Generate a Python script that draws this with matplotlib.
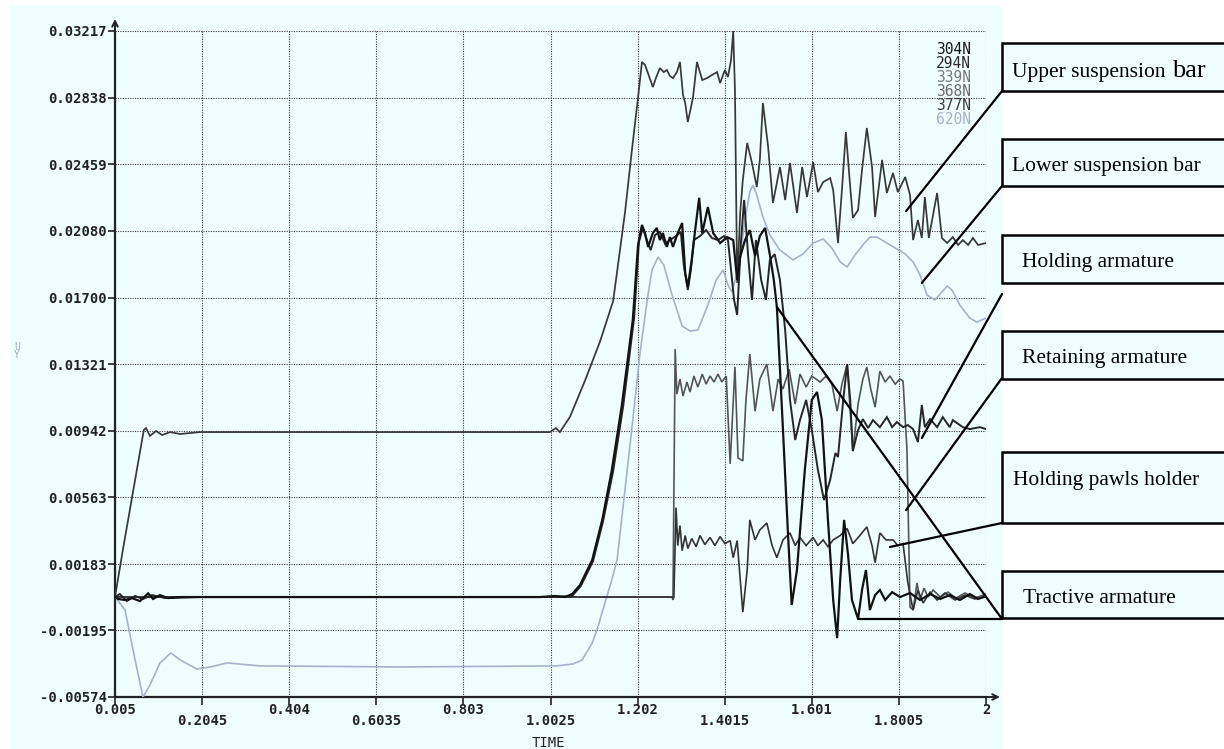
import matplotlib
matplotlib.use('Agg')
import matplotlib.pyplot as plt
from matplotlib.patches import Rectangle, ConnectionPatch

# ---------------- data ----------------
y_ticks = [-0.00574, -0.00195, 0.00183, 0.00563, 0.00942, 0.01321,
           0.01700, 0.02080, 0.02459, 0.02838, 0.03217]
y_tick_labels = ['-0.00574', '-0.00195', '0.00183', '0.00563', '0.00942', '0.01321',
                 '0.01700', '0.02080', '0.02459', '0.02838', '0.03217']
x_ticks_row1 = [0.005, 0.404, 0.803, 1.202, 1.601, 2.0]
x_labels_row1 = ['0.005', '0.404', '0.803', '1.202', '1.601', '2']
x_ticks_row2 = [0.2045, 0.6035, 1.0025, 1.4015, 1.8005]
x_labels_row2 = ['0.2045', '0.6035', '1.0025', '1.4015', '1.8005']

legend_labels = ['304N', '294N', '339N', '368N', '377N', '620N']

# Lower suspension bar (620N, light blue)
lower_t = [0.005, 0.028, 0.051, 0.069, 0.085, 0.108, 0.133, 0.154, 0.193, 0.223, 0.262, 0.337,
           0.658, 1.017, 1.054, 1.075, 1.098, 1.111, 1.127, 1.143, 1.155, 1.173, 1.191, 1.207,
           1.224, 1.235, 1.249, 1.262, 1.281, 1.304, 1.322, 1.340, 1.363, 1.382, 1.398, 1.409,
           1.418, 1.432, 1.448, 1.459, 1.466, 1.475, 1.489, 1.505, 1.528, 1.558, 1.581, 1.604,
           1.627, 1.647, 1.666, 1.682, 1.700, 1.718, 1.734, 1.750, 1.769, 1.792, 1.815, 1.833,
           1.849, 1.865, 1.883, 1.899, 1.911, 1.922, 1.940, 1.963, 1.979, 2.000]
lower_v = [-0.00005, -0.00079, -0.00363, -0.00574, -0.00506, -0.00380, -0.00323, -0.00363,
           -0.00415, -0.00403, -0.00380, -0.00397, -0.00403, -0.00397, -0.00386, -0.00363,
           -0.00267, -0.00176, -0.00039, 0.00092, 0.00206, 0.00604, 0.01003, 0.01373, 0.01686,
           0.01857, 0.01931, 0.01885, 0.01714, 0.01538, 0.01509, 0.01515, 0.01657, 0.01800,
           0.01857, 0.01771, 0.01731, 0.01857, 0.02141, 0.02301, 0.02340, 0.02283, 0.02158,
           0.02056, 0.01970, 0.01914, 0.01948, 0.02010, 0.02033, 0.01982, 0.01902, 0.01874,
           0.01942, 0.01999, 0.02044, 0.02044, 0.02016, 0.01982, 0.01948, 0.01902, 0.01828,
           0.01714, 0.01686, 0.01731, 0.01765, 0.01743, 0.01657, 0.01583, 0.01560, 0.01583]

# Upper suspension bar (377N)
upper_t = [0.005, 0.023, 0.071, 0.076, 0.085, 0.099, 0.113, 0.131, 0.154, 0.200, 1.001, 1.015,
           1.024, 1.047, 1.082, 1.116, 1.146, 1.173, 1.189, 1.203, 1.212, 1.219, 1.237, 1.244,
           1.253, 1.262, 1.269, 1.276, 1.283, 1.292, 1.299, 1.306, 1.311, 1.317, 1.322, 1.329,
           1.338, 1.350, 1.361, 1.372, 1.384, 1.391, 1.402, 1.409, 1.416, 1.421, 1.425, 1.430,
           1.437, 1.443, 1.453, 1.464, 1.475, 1.482, 1.489, 1.501, 1.512, 1.528, 1.540, 1.551,
           1.567, 1.579, 1.590, 1.604, 1.615, 1.627, 1.643, 1.650, 1.661, 1.670, 1.679, 1.689,
           1.695, 1.707, 1.716, 1.727, 1.739, 1.746, 1.762, 1.773, 1.787, 1.798, 1.815, 1.826,
           1.833, 1.844, 1.853, 1.860, 1.869, 1.888, 1.899, 1.911, 1.924, 1.936, 1.947, 1.959,
           1.970, 1.982, 2.000]
upper_v = [-0.00005, 0.00263, 0.00946, 0.00957, 0.00912, 0.00940, 0.00917, 0.00934, 0.00923,
           0.00934, 0.00934, 0.00957, 0.00934, 0.01020, 0.01230, 0.01450, 0.01680, 0.02181,
           0.02540, 0.02838, 0.03041, 0.03024, 0.02898, 0.02949, 0.03006, 0.02983, 0.02995,
           0.02961, 0.02949, 0.02983, 0.03041, 0.02853, 0.02807, 0.02699, 0.02756, 0.02841,
           0.03041, 0.02938, 0.02949, 0.02966, 0.02983, 0.02921, 0.02995, 0.02955, 0.03052,
           0.03217, 0.02881, 0.01783, 0.02181, 0.02369, 0.02580, 0.02466, 0.02329, 0.02483,
           0.02807, 0.02557, 0.02238, 0.02443, 0.02255, 0.02466, 0.02181, 0.02443, 0.02272,
           0.02471, 0.02300, 0.02357, 0.02380, 0.02312, 0.02010, 0.02312, 0.02642, 0.02329,
           0.02153, 0.02198, 0.02426, 0.02665, 0.02443, 0.02158, 0.02483, 0.02295, 0.02409,
           0.02300, 0.02386, 0.02283, 0.02027, 0.02141, 0.02039, 0.02272, 0.02039, 0.02295,
           0.02039, 0.02010, 0.02044, 0.01999, 0.02027, 0.01999, 0.02039, 0.01999, 0.02010]

# Tractive armature (304N)
tract_t = [0.005, 0.012, 0.028, 0.044, 0.062, 0.081, 0.092, 0.108, 0.126, 0.154, 0.978, 1.013,
           1.036, 1.052, 1.070, 1.098, 1.121, 1.143, 1.166, 1.191, 1.203, 1.212, 1.219, 1.226,
           1.237, 1.246, 1.253, 1.260, 1.269, 1.276, 1.283, 1.294, 1.304, 1.311, 1.317, 1.326,
           1.333, 1.343, 1.350, 1.363, 1.375, 1.391, 1.407, 1.421, 1.430, 1.437, 1.448, 1.459,
           1.471, 1.482, 1.494, 1.505, 1.514, 1.521, 1.535, 1.546, 1.555, 1.567, 1.585, 1.601,
           1.613, 1.624, 1.638, 1.650, 1.659, 1.666, 1.675, 1.684, 1.693, 1.707, 1.716, 1.725,
           1.734, 1.746, 1.757, 1.769, 1.785, 1.803, 1.826, 1.849, 1.872, 1.895, 1.917, 1.940,
           1.963, 1.982, 2.000]
tract_v = [-0.00005, -0.00016, -0.00022, -0.00011, -0.00028, 0.00016, -0.00016, 0.00006,
           -0.00011, -0.00005, -0.00005, 0.00001, -0.00005, 0.00012, 0.00063, 0.00206, 0.00434,
           0.00718, 0.01088, 0.01572, 0.01999, 0.02113, 0.02067, 0.01988, 0.02067, 0.02096,
           0.02027, 0.02067, 0.01988, 0.02044, 0.01988, 0.02067, 0.02124, 0.01840, 0.01760,
           0.01914, 0.02067, 0.02267, 0.02067, 0.02215, 0.02067, 0.02010, 0.02044, 0.02027,
           0.01800, 0.01931, 0.02027, 0.02084, 0.01936, 0.02050, 0.02096, 0.01942, 0.01800,
           0.01646, 0.00946, 0.00377, -0.00050, 0.00149, 0.00718, 0.01117, 0.01162, 0.01003,
           0.00434, -0.00022, -0.00239, 0.00092, 0.00434, 0.00236, -0.00022, -0.00130, 0.00035,
           0.00149, -0.00079, 0.00006, 0.00035, -0.00022, 0.00023, -0.00005, 0.00018, -0.00022,
           0.00012, -0.00016, 0.00006, -0.00022, 0.00012, -0.00016, 0.00001]

# Holding armature (294N)
hold_t = [0.005, 0.016, 0.032, 0.051, 0.069, 0.090, 0.120, 0.200, 1.001, 1.052, 1.072, 1.100,
          1.123, 1.146, 1.169, 1.194, 1.205, 1.214, 1.223, 1.232, 1.242, 1.253, 1.265, 1.276,
          1.290, 1.301, 1.308, 1.317, 1.324, 1.331, 1.345, 1.359, 1.372, 1.386, 1.400, 1.409,
          1.416, 1.423, 1.430, 1.439, 1.446, 1.455, 1.464, 1.473, 1.485, 1.496, 1.505, 1.516,
          1.528, 1.540, 1.551, 1.563, 1.574, 1.588, 1.601, 1.615, 1.629, 1.643, 1.655, 1.661,
          1.673, 1.682, 1.689, 1.695, 1.707, 1.718, 1.730, 1.741, 1.757, 1.773, 1.785, 1.796,
          1.810, 1.821, 1.833, 1.844, 1.853, 1.860, 1.872, 1.888, 1.901, 1.917, 1.924, 1.947,
          1.963, 1.986, 2.000]
hold_v = [-0.00005, 0.00012, -0.00028, 0.00001, -0.00016, 0.00006, -0.00011, -0.00005,
          -0.00005, 0.00001, 0.00058, 0.00200, 0.00428, 0.00712, 0.01082, 0.01584, 0.02016,
          0.02096, 0.02027, 0.01970, 0.02056, 0.02073, 0.02005, 0.02027, 0.02050, 0.02073,
          0.01880, 0.01743, 0.01857, 0.02027, 0.02050, 0.02084, 0.02039, 0.02027, 0.02050,
          0.02027, 0.01857, 0.01686, 0.01601, 0.02027, 0.02255, 0.01942, 0.01686, 0.02027,
          0.01800, 0.01686, 0.01914, 0.01947, 0.01800, 0.01515, 0.01117, 0.00889, 0.01003,
          0.01117, 0.00946, 0.00718, 0.00547, 0.00661, 0.00815, 0.00792, 0.01117, 0.01321,
          0.01117, 0.00826, 0.00946, 0.01008, 0.00957, 0.01002, 0.00962, 0.01019, 0.00962,
          0.00991, 0.00962, 0.00974, 0.00951, 0.00877, 0.01088, 0.00962, 0.01008, 0.00962,
          0.01019, 0.00962, 0.01002, 0.00962, 0.00951, 0.00962, 0.00951]

# Retaining armature (339N)
retain_t = [0.005, 1.281, 1.283, 1.288, 1.292, 1.299, 1.306, 1.315, 1.322, 1.331, 1.340, 1.350,
            1.359, 1.368, 1.377, 1.386, 1.395, 1.405, 1.414, 1.425, 1.432, 1.443, 1.450, 1.459,
            1.471, 1.482, 1.498, 1.512, 1.524, 1.535, 1.549, 1.563, 1.574, 1.588, 1.601, 1.620,
            1.634, 1.647, 1.659, 1.670, 1.682, 1.695, 1.707, 1.718, 1.727, 1.736, 1.746, 1.757,
            1.769, 1.780, 1.792, 1.803, 1.810, 1.819, 1.826, 1.833, 1.842, 1.849, 1.858, 1.867,
            1.879, 1.895, 1.913, 1.931, 1.952, 1.974, 2.000]
retain_v = [-0.00005, -0.00005, -0.00022, 0.01406, 0.01150, 0.01236, 0.01139, 0.01219, 0.01162,
            0.01253, 0.01190, 0.01264, 0.01207, 0.01253, 0.01219, 0.01264, 0.01219, 0.01253,
            0.00753, 0.01305, 0.00787, 0.00770, 0.01110, 0.01378, 0.01053, 0.01236, 0.01321,
            0.01053, 0.01236, 0.01179, 0.01292, 0.01093, 0.01264, 0.01190, 0.01253, 0.01219,
            0.01253, 0.01207, 0.01053, 0.01207, 0.01321, 0.00826, 0.01093, 0.01236, 0.01304,
            0.01179, 0.01076, 0.01281, 0.01219, 0.01253, 0.01207, 0.01236, 0.01224, 0.00832,
            -0.00062, -0.00079, 0.00075, -0.00022, 0.00046, -0.00005, 0.00035, -0.00005,
            0.00023, -0.00011, 0.00018, -0.00011, 0.00012]

# Holding pawls holder (368N)
pawl_t = [0.005, 1.281, 1.285, 1.290, 1.294, 1.299, 1.304, 1.311, 1.317, 1.326, 1.336, 1.345,
          1.356, 1.368, 1.379, 1.391, 1.402, 1.414, 1.421, 1.430, 1.443, 1.453, 1.459, 1.471,
          1.482, 1.498, 1.510, 1.521, 1.535, 1.551, 1.563, 1.574, 1.588, 1.604, 1.615, 1.627,
          1.638, 1.650, 1.666, 1.682, 1.695, 1.711, 1.727, 1.739, 1.746, 1.757, 1.771, 1.787,
          1.798, 1.810, 1.821, 1.833, 1.844, 1.856, 1.872, 1.888, 1.906, 1.929, 1.952, 1.974,
          2.000]
pawl_v = [-0.00005, -0.00005, -0.00011, 0.00504, 0.00288, 0.00402, 0.00259, 0.00345, 0.00271,
          0.00328, 0.00282, 0.00345, 0.00294, 0.00334, 0.00288, 0.00339, 0.00299, 0.00316,
          0.00219, 0.00316, -0.00091, 0.00149, 0.00434, 0.00320, 0.00377, 0.00416, 0.00288,
          0.00219, 0.00320, 0.00360, 0.00288, 0.00334, 0.00288, 0.00334, 0.00288, 0.00320,
          0.00282, 0.00320, 0.00345, 0.00385, 0.00299, 0.00345, 0.00394, 0.00288, 0.00191,
          0.00360, 0.00320, 0.00320, 0.00288, 0.00299, 0.00075, -0.00079, 0.00035, -0.00039,
          0.00023, -0.00022, 0.00018, -0.00022, 0.00006, -0.00016, -0.00005]

# Callout names and the data point each leader points to
callout_names = ['Upper suspension ', 'Lower suspension bar', 'Holding armature',
                 'Retaining armature', 'Holding pawls holder', 'Tractive armature']
callout_t = [1.817, 1.853, 1.853, 1.817, 1.780, 1.707]
callout_v = [0.02192, 0.01783, 0.00900, 0.00490, 0.00280, -0.00130]
tractive_extra_t = 1.521
tractive_extra_v = 0.01646

# ---------------- figure ----------------
W, H = 1224, 749
fig = plt.figure(figsize=(W / 100, H / 100), dpi=100, facecolor='white')
panel_col = '#effefe'
fig.patches.append(Rectangle((10 / W, 0), 992 / W, 744 / H, transform=fig.transFigure,
                             facecolor=panel_col, edgecolor='none', zorder=-10))

ax = fig.add_axes([115 / W, 1 - 697 / H, 871 / W, 666 / H], zorder=1)
ax.set_facecolor('none')
ax.set_xlim(0.005, 2.0)
ax.set_ylim(-0.00574, 0.03217)

series = [
    (lower_t, lower_v, '#a3b3cd', 1.2),
    (retain_t, retain_v, '#555555', 1.2),
    (pawl_t, pawl_v, '#333333', 1.2),
    (upper_t, upper_v, '#383838', 1.25),
    (hold_t, hold_v, '#262626', 1.4),
    (tract_t, tract_v, '#121212', 1.6),
]
for t, v, c, lw in series:
    ax.plot(t, v, color=c, lw=lw, zorder=3, solid_joinstyle='miter')

mono = 'DejaVu Sans Mono'
ax.set_yticks(y_ticks)
ax.set_yticklabels(y_tick_labels, family=mono, fontsize=10, fontweight='bold', color='#222222')
ax.set_xticks(x_ticks_row1)
ax.set_xticklabels(x_labels_row1, family=mono, fontsize=10, fontweight='bold', color='#222222')
ax.set_xticks(x_ticks_row2, minor=True)
ax.set_xticklabels(x_labels_row2, minor=True, family=mono, fontsize=10, fontweight='bold',
                   color='#222222')
ax.tick_params(axis='y', direction='out', length=5, width=1.2, pad=1, colors='#222222')
ax.tick_params(axis='x', which='both', direction='out', length=6, width=1.2, pad=-2,
               colors='#222222')
ax.tick_params(axis='x', which='minor', pad=6.5)

grid_style = dict(color='#3a3a3a', lw=0.8, linestyle=(0, (1, 1.2)))
ax.grid(True, which='major', **grid_style)
ax.grid(True, which='minor', axis='x', **grid_style)
ax.set_axisbelow(True)

for s in ['top', 'right']:
    ax.spines[s].set_visible(False)
for s in ['left', 'bottom']:
    ax.spines[s].set_linewidth(1.6)
    ax.spines[s].set_color('#222222')
ax.annotate('', xy=(0, 1.018), xytext=(0, 0.999), xycoords='axes fraction',
            arrowprops=dict(arrowstyle='->', lw=1.4, color='#222222', shrinkA=0, shrinkB=0,
                            mutation_scale=10), annotation_clip=False)
ax.annotate('', xy=(1.016, 0), xytext=(0.999, 0), xycoords='axes fraction',
            arrowprops=dict(arrowstyle='->', lw=1.4, color='#222222', shrinkA=0, shrinkB=0,
                            mutation_scale=10), annotation_clip=False)

ax.set_xlabel('TIME', family=mono, fontsize=10, color='#222222', labelpad=2)
ax.xaxis.set_label_coords(0.498, -0.058)
fig.text(17 / W, 1 - 351 / H, 'U\nY', family=mono, fontsize=7, color='#9aaac4',
         ha='center', va='center', linespacing=0.85)

# overlay in pixel units for legend and callouts
ov = fig.add_axes([0, 0, 1, 1], zorder=5)
ov.set_xlim(0, W)
ov.set_ylim(H, 0)
ov.axis('off')
ov.patch.set_alpha(0)

leg_colors = ['#151515', '#2a2a2a', '#7a7a7a', '#6c6c6c', '#3c3c3c', '#a3b3cd']
for i, (lab, col) in enumerate(zip(legend_labels, leg_colors)):
    ov.text(971, 49 + 14 * i, lab, ha='right', va='center', family=mono, fontsize=10.5,
            color=col)

box_top = [43, 139, 235, 331, 452, 571]
box_bot = [91, 186, 283, 379, 523, 618]
text_x = [1012, 1012, 1022, 1022, 1013, 1023]
text_base = [77, 171, 267, 363, 485, 603]
lead_start = [91, 186, 294, 378, 523, 619]
serif = 'Liberation Serif'
for i in range(6):
    ov.add_patch(Rectangle((1002, box_top[i]), 260, box_bot[i] - box_top[i],
                           facecolor=panel_col, edgecolor='black', lw=1.8, zorder=2))
    ov.text(text_x[i], text_base[i], callout_names[i], family=serif, fontsize=15.5,
            va='baseline', ha='left', zorder=3)
    con = ConnectionPatch(xyA=(callout_t[i], callout_v[i]), coordsA=ax.transData,
                          xyB=(1002, lead_start[i]), coordsB=ov.transData,
                          color='black', lw=1.6, zorder=4)
    ov.add_artist(con)
ov.text(1172, text_base[0], 'bar', family=serif, fontsize=19, va='baseline', ha='left',
        zorder=3)
con = ConnectionPatch(xyA=(tractive_extra_t, tractive_extra_v), coordsA=ax.transData,
                      xyB=(1002, lead_start[5]), coordsB=ov.transData,
                      color='black', lw=1.6, zorder=4)
ov.add_artist(con)

fig.savefig('out.png', dpi=100, facecolor='white')
